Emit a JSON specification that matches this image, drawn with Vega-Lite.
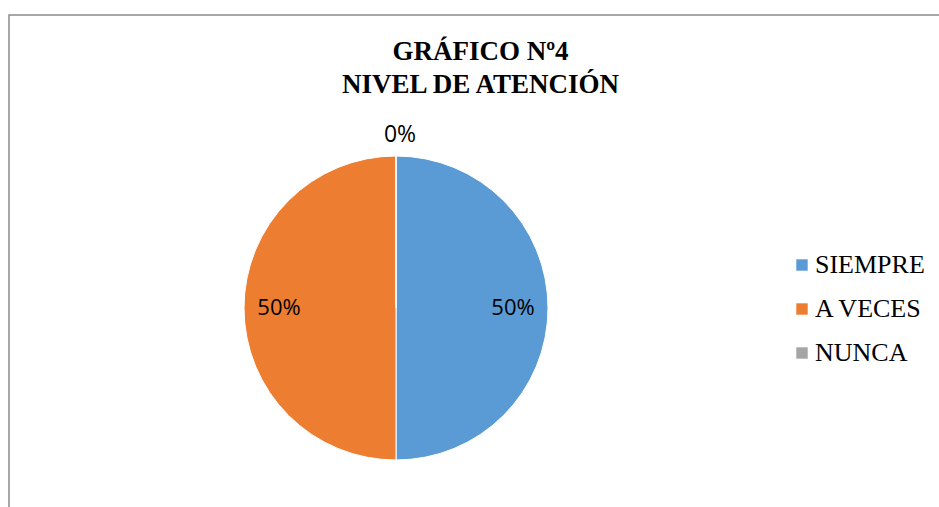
{
  "$schema": "https://vega.github.io/schema/vega-lite/v6.json",
  "width": 931,
  "height": 493,
  "autosize": {"type": "none"},
  "padding": {"left": 9, "top": 15, "right": 0, "bottom": 0},
  "background": "white",
  "view": {"stroke": "#8c8c8c", "strokeWidth": 1.5},
  "config": {"view": {"stroke": "#8c8c8c", "strokeWidth": 1.5}},
  "title": {
    "text": ["GRÁFICO Nº4", "NIVEL DE ATENCIÓN"],
    "font": "Liberation Serif",
    "fontSize": 27,
    "fontWeight": "bold",
    "color": "#000000",
    "anchor": "middle",
    "frame": "group",
    "baseline": "top",
    "lineHeight": 33,
    "offset": -84,
    "dx": 6
  },
  "data": {
    "values": [
      {"categoria": "SIEMPRE", "valor": 0.5, "orden": 1},
      {"categoria": "A VECES", "valor": 0.5, "orden": 2},
      {"categoria": "NUNCA", "valor": 0, "orden": 3}
    ]
  },
  "encoding": {
    "theta": {"field": "valor", "type": "quantitative", "stack": true},
    "order": {"field": "orden", "type": "quantitative"},
    "color": {
      "field": "categoria",
      "type": "nominal",
      "scale": {"domain": ["SIEMPRE", "A VECES", "NUNCA"], "range": ["#5B9BD5", "#ED7D31", "#A5A5A5"]},
      "legend": {
        "title": null,
        "orient": "none",
        "legendX": 780,
        "legendY": 237,
        "symbolType": "square",
        "symbolSize": 130,
        "symbolStrokeWidth": 0,
        "labelFont": "Liberation Serif",
        "labelFontSize": 26,
        "labelColor": "#000000",
        "labelOffset": 0,
        "rowPadding": 18
      }
    }
  },
  "layer": [
    {
      "mark": {"type": "arc", "radius": 152, "x": 387, "y": 293, "stroke": "white", "strokeWidth": 1}
    },
    {
      "transform": [{"filter": "datum.valor > 0"}],
      "mark": {"type": "text", "radius": 117, "x": 387, "y": 293, "font": "Open Sans", "fontSize": 22},
      "encoding": {
        "text": {"field": "valor", "type": "quantitative", "format": ".0%"},
        "color": {"value": "#000000"}
      }
    },
    {
      "transform": [{"filter": "datum.valor == 0"}],
      "mark": {"type": "text", "radius": 173, "x": 387, "y": 293, "dx": 4, "font": "Open Sans", "fontSize": 23},
      "encoding": {
        "text": {"field": "valor", "type": "quantitative", "format": ".0%"},
        "color": {"value": "#000000"}
      }
    }
  ]
}
